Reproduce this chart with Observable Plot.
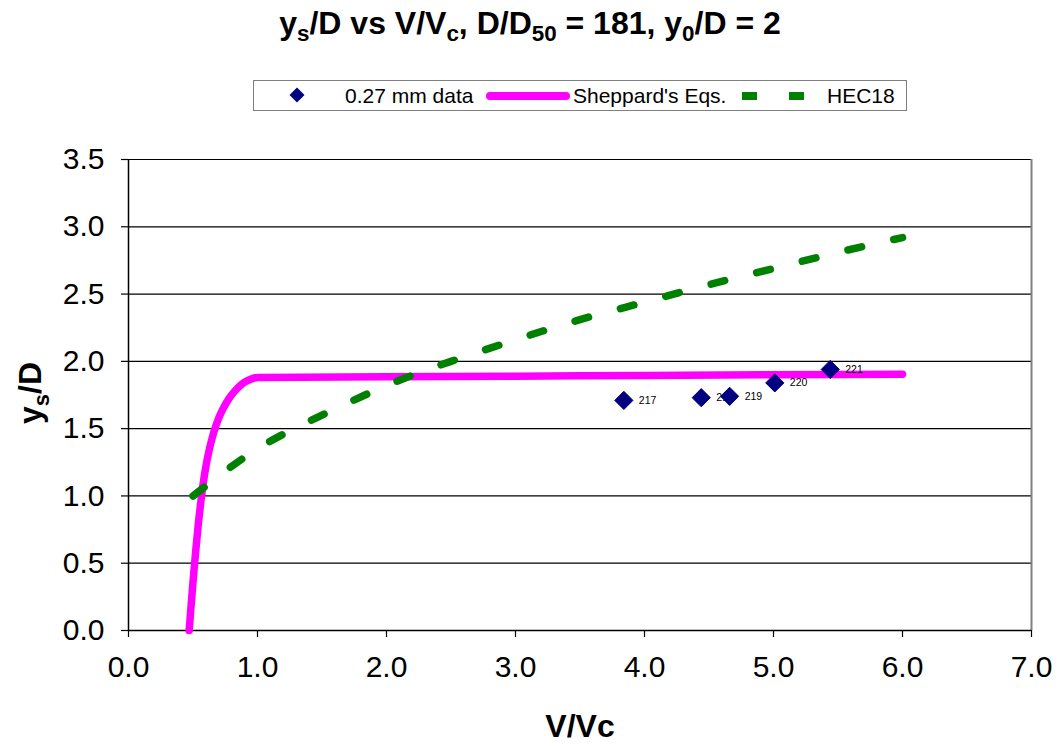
<!DOCTYPE html>
<html>
<head>
<meta charset="utf-8">
<script src="https://cdn.jsdelivr.net/npm/d3@7"></script>
<script src="https://cdn.jsdelivr.net/npm/@observablehq/plot@0.6"></script>
<style>
  body { margin: 0; background: #fff; font-family: "Liberation Sans", Arial, sans-serif; }
  #wrap { position: relative; width: 1060px; height: 746px; overflow: hidden; background: #fff; }
  #title { position: absolute; left: 0; top: 7px; width: 1060px; text-align: center; font-weight: bold; font-size: 32px; line-height: 32px; color: #000; }
  #title sub { font-size: 70%; vertical-align: -0.3em; line-height: 0; }
  #legend { position: absolute; left: 253px; top: 80px; width: 654px; height: 31px; border: 1.5px solid #7f7f7f; box-sizing: border-box; }
  .lg { position: absolute; font-size: 21px; line-height: 31px; top: 80px; color: #000; white-space: nowrap; }
  #chart { position: absolute; left: 0; top: 130px; }
</style>
</head>
<body>
<div id="wrap">
  <div id="title">y<sub>s</sub>/D vs V/V<sub>c</sub>, D/D<sub>50</sub> = 181, y<sub>0</sub>/D = 2</div>
  <div id="legend"></div>
  <svg style="position:absolute;left:288px;top:86px" width="18" height="18"><path d="M9 1.5 L16.5 9 L9 16.5 L1.5 9 Z" fill="#000080"/></svg>
  <div class="lg" style="left:345px">0.27 mm data</div>
  <div style="position:absolute;left:486px;top:91.5px;width:84px;height:8px;background:#ff00ff;border-radius:4px"></div>
  <div class="lg" style="left:573px">Sheppard's Eqs.</div>
  <div style="position:absolute;left:742px;top:91.5px;width:15px;height:8px;background:#008000"></div>
  <div style="position:absolute;left:789px;top:91.5px;width:15px;height:8px;background:#008000"></div>
  <div class="lg" style="left:827px">HEC18</div>
  <div id="chart"></div>
</div>
<script>
// Tick values
const xTicks = [0, 1, 2, 3, 4, 5, 6, 7];
const yTicks = [0, 0.5, 1, 1.5, 2, 2.5, 3, 3.5];

// 0.27 mm data (measured points with run labels)
const dataX = [3.84, 4.44, 4.66, 5.01, 5.44];
const dataY = [1.71, 1.73, 1.74, 1.84, 1.94];
const dataRun = ["217", "218", "219", "220", "221"];

// Sheppard's equations curve
const sheppardX = [0.47, 0.48, 0.50, 0.52, 0.54, 0.56, 0.58, 0.60, 0.63, 0.66, 0.70, 0.74, 0.78, 0.82, 0.86, 0.90, 0.95, 1.00, 2.00, 3.00, 4.00, 5.00, 6.00];
const sheppardY = [0.00, 0.12, 0.36, 0.58, 0.78, 0.95, 1.10, 1.22, 1.36, 1.47, 1.58, 1.66, 1.725, 1.775, 1.815, 1.845, 1.868, 1.88, 1.885, 1.89, 1.895, 1.90, 1.905];

// HEC18 curve
const hecX = [0.5, 1.0, 1.5, 2.0, 2.5, 3.0, 3.5, 4.0, 4.5, 5.0, 5.5, 6.0];
const hecY = [1.00, 1.35, 1.60, 1.82, 2.00, 2.16, 2.31, 2.44, 2.57, 2.69, 2.81, 2.92];

const pts = dataX.map((x, i) => ({x, y: dataY[i], run: dataRun[i]}));
const sheppard = sheppardX.map((x, i) => ({x, y: sheppardY[i]}));
const hec = hecX.map((x, i) => ({x, y: hecY[i]}));

const chart = Plot.plot({
  width: 1060,
  height: 616,
  marginTop: 29,
  marginBottom: 116,
  marginLeft: 128,
  marginRight: 29,
  x: {domain: [0, 7]},
  y: {domain: [0, 3.5]},
  style: {fontFamily: '"Liberation Sans", Arial, sans-serif', background: "#fff", color: "#000", overflow: "visible"},
  marks: [
    Plot.gridY(yTicks.slice(1), {stroke: "#000", strokeOpacity: 1, strokeWidth: 1.2}),
    Plot.ruleX([7], {stroke: "#808080", strokeWidth: 2}),
    Plot.ruleX([0], {stroke: "#000", strokeWidth: 1.5}),
    Plot.ruleY([0], {stroke: "#000", strokeWidth: 1.5}),
    Plot.axisX(xTicks, {tickSize: 7, tickPadding: 18, fontSize: 30, tickFormat: d => d.toFixed(1), label: null, stroke: "#000", strokeWidth: 1.2}),
    Plot.axisY(yTicks, {tickSize: 7, tickPadding: 17, fontSize: 30, tickFormat: d => d.toFixed(1), label: null, stroke: "#000", strokeWidth: 1.2}),
    Plot.text(["V/Vc"], {frameAnchor: "bottom", textAnchor: "middle", dy: 106, fontSize: 32, fontWeight: "bold", text: d => d}),
    Plot.text(["ys/D"], {frameAnchor: "left", textAnchor: "middle", rotate: -90, dx: -98, dy: -2, fontSize: 32, fontWeight: "bold", text: d => d}),
    Plot.line(sheppard, {x: "x", y: "y", stroke: "#ff00ff", strokeWidth: 7.5, strokeLinecap: "round", strokeLinejoin: "round", curve: "monotone-x"}),
    Plot.line(hec, {x: "x", y: "y", stroke: "#008000", strokeWidth: 7.5, strokeDasharray: "14,33", curve: "natural"}),
    Plot.text(pts, {x: "x", y: "y", text: "run", dx: 15, textAnchor: "start", fontSize: 10.5}),
    Plot.dot(pts, {x: "x", y: "y", symbol: "diamond2", r: 8.2, fill: "#000080", stroke: "#000080", strokeWidth: 1})
  ]
});

// subscript in the y-axis title
chart.querySelectorAll("text").forEach(t => {
  if (t.textContent === "ys/D") {
    t.textContent = "";
    const ns = "http://www.w3.org/2000/svg";
    const a = document.createElementNS(ns, "tspan"); a.textContent = "y";
    const b = document.createElementNS(ns, "tspan"); b.textContent = "s"; b.setAttribute("dy", "8"); b.setAttribute("font-size", "22");
    const c = document.createElementNS(ns, "tspan"); c.textContent = "/D"; c.setAttribute("dy", "-8");
    t.append(a, b, c);
  }
});

document.getElementById("chart").appendChild(chart);
</script>
</body>
</html>
